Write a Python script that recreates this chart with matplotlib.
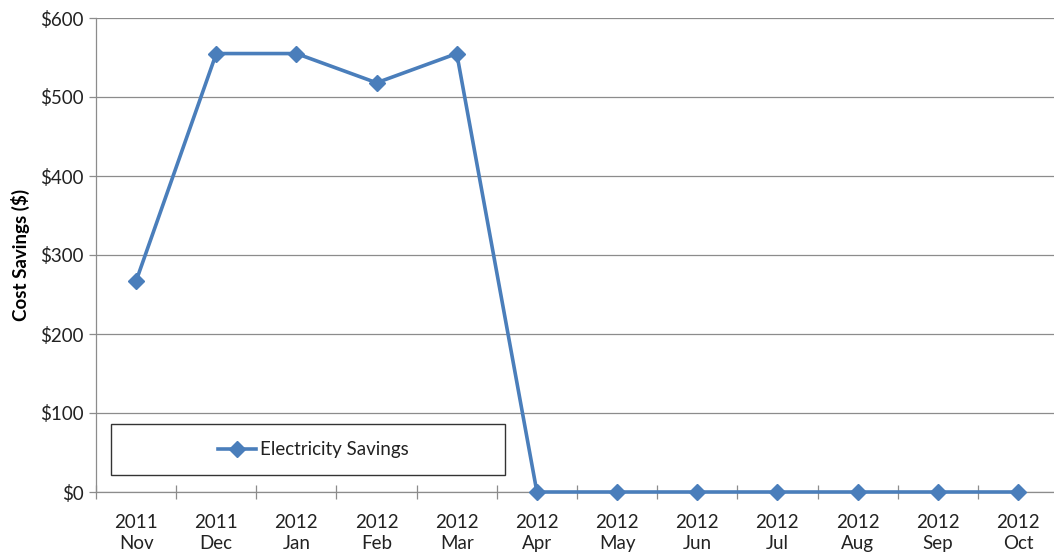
import matplotlib.pyplot as plt
from matplotlib.patches import Rectangle
from matplotlib.lines import Line2D

plt.rcParams['font.family'] = ['Lato', 'DejaVu Sans']

years = ["2011", "2011", "2012", "2012", "2012", "2012",
         "2012", "2012", "2012", "2012", "2012", "2012"]
months = ["Nov", "Dec", "Jan", "Feb", "Mar", "Apr",
          "May", "Jun", "Jul", "Aug", "Sep", "Oct"]
savings = [267, 555, 555, 518, 555, 0, 0, 0, 0, 0, 0, 0]
yticks = [0, 100, 200, 300, 400, 500, 600]

blue = "#4a7ebb"
grid_gray = "#8c8c8c"

fig = plt.figure(figsize=(10.54, 5.52), dpi=100)
ax = fig.add_axes([96 / 1054, 60 / 552, 962 / 1054, 474 / 552])

x = list(range(len(savings)))
ax.plot(x, savings, color=blue, linewidth=2.6, marker="D", markersize=8,
        clip_on=False, zorder=3)

ax.set_xlim(-0.5, len(savings) - 0.5)
ax.set_ylim(0, 600)
ax.set_yticks(yticks)
ax.set_yticklabels([f"${v}" for v in yticks], fontsize=13.5, color="#222222")
ax.yaxis.grid(True, color=grid_gray, linewidth=0.9)
ax.set_axisbelow(True)

# category labels centred, tick marks on the boundaries
ax.set_xticks(x)
ax.set_xticklabels([f"{y}\n{m}" for y, m in zip(years, months)],
                   fontsize=13.5, color="#222222", linespacing=1.25)
ax.tick_params(axis="x", which="major", length=0, pad=16)
ax.set_xticks([i + 0.5 for i in range(-1, len(savings))], minor=True)
ax.tick_params(axis="x", which="minor", length=10, direction="inout",
               color=grid_gray, width=0.9)
ax.tick_params(axis="y", length=5, color=grid_gray, width=0.9, pad=4)

for side in ("top", "right"):
    ax.spines[side].set_visible(False)
for side in ("left", "bottom"):
    ax.spines[side].set_color(grid_gray)
    ax.spines[side].set_linewidth(0.9)

ax.set_ylabel("Cost Savings ($)", fontsize=13.5, fontweight="bold", labelpad=7)

# legend drawn as a framed box in the lower left
ax.add_patch(Rectangle((-0.313, 21.5), 4.913, 64.5, facecolor="white",
                       edgecolor="#333333", linewidth=1.0, zorder=4))
ax.add_line(Line2D([1.02, 1.495], [54.4, 54.4], color=blue, linewidth=2.6,
                   zorder=5))
ax.plot([1.26], [54.4], marker="D", markersize=8, color=blue, zorder=6)
ax.text(1.55, 54.4, "Electricity Savings", fontsize=13.5, va="center",
        ha="left", color="#222222", zorder=6)

fig.savefig("out.png", dpi=100)
